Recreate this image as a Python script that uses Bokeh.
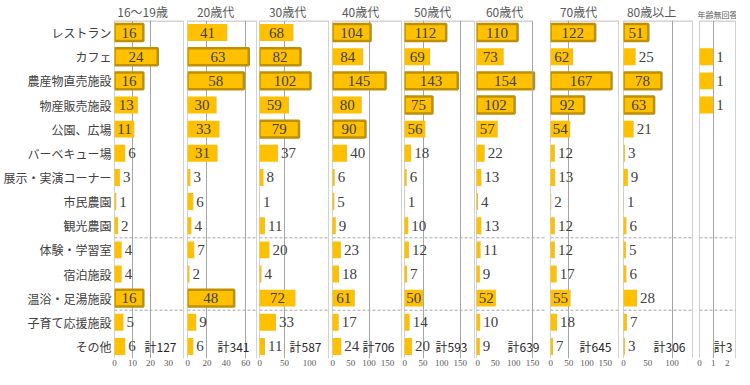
from bokeh.plotting import figure
from bokeh.layouts import row
from bokeh.models import FactorRange, Range1d, FixedTicker, Span, Label, ColumnDataSource
from bokeh.core.properties import value
from bokeh.embed import file_html
from bokeh.resources import INLINE

# ---------------- data ----------------
categories = ["レストラン", "カフェ", "農産物直売施設", "物産販売施設", "公園、広場",
              "バーベキュー場", "展示・実演コーナー", "市民農園", "観光農園",
              "体験・学習室", "宿泊施設", "温浴・足湯施設", "子育て応援施設", "その他"]
groups = ["16～19歳", "20歳代", "30歳代", "40歳代", "50歳代", "60歳代", "70歳代", "80歳以上", "年齢無回答"]

v_16_19 = [16, 24, 16, 13, 11, 6, 3, 1, 2, 4, 4, 16, 5, 6]
v_20s = [41, 63, 58, 30, 33, 31, 3, 6, 4, 7, 2, 48, 9, 6]
v_30s = [68, 82, 102, 59, 79, 37, 8, 1, 11, 20, 4, 72, 33, 11]
v_40s = [104, 84, 145, 80, 90, 40, 6, 5, 9, 23, 18, 61, 17, 24]
v_50s = [112, 69, 143, 75, 56, 18, 6, 1, 10, 12, 7, 50, 14, 20]
v_60s = [110, 73, 154, 102, 57, 22, 13, 4, 13, 11, 9, 52, 10, 9]
v_70s = [122, 62, 167, 92, 54, 12, 13, 2, 12, 12, 17, 55, 18, 7]
v_80plus = [51, 25, 78, 63, 21, 3, 9, 1, 6, 5, 6, 28, 7, 3]
v_noanswer = [0, 1, 1, 1, 0, 0, 0, 0, 0, 0, 0, 0, 0, 0]
series = [v_16_19, v_20s, v_30s, v_40s, v_50s, v_60s, v_70s, v_80plus, v_noanswer]

tick_values = [[0, 10, 20, 30], [0, 20, 40, 60], [0, 50, 100], [0, 50, 100, 150],
               [0, 50, 100, 150], [0, 50, 100, 150], [0, 50, 100, 150], [0, 50, 100], [0, 1, 2]]

# ---------------- layout / style ----------------
x_max = [38.3, 71, 138, 188.5, 188, 187.5, 186, 142, 2.6]
edge_at = [38.3, 71, 138, 188.5, 188, 150, 186, 142, 2.6]
grid_at = [[10, 20], [20, 60], [50], [100], [50, 150], [], [50], [100], [1]]
frame_w = [69, 69, 69, 69, 70, 70, 68, 69, 36]
border_l = [112, 2, 2, 2, 2, 1, 2, 3, 5]
border_r = [2, 1, 2, 1, 1, 2, 2, 2, 1]
total_dx = [-7, -7, -7, -7, -7, 7, -7, -7, -3]
title_center = [28, 28, 28, 28, 28, 28, 28, 28, 18]
FH = 338
TOP = 18
BOTTOM = 13
GOLD = "#FFC000"
GOLD_EDGE = "#BF9000"
GRID = "#A6A6A6"
JP = "Noto Sans CJK JP"
NUM = "Liberation Sans Narrow"

cats_rev = list(reversed(categories))
n = len(categories)


def est_width(s, fs):
    return sum(0.55 * fs if ord(ch) < 128 else fs for ch in s)


figs = []
for i, (g, vals) in enumerate(zip(groups, series)):
    xm = x_max[i]
    fw = frame_w[i]
    p = figure(y_range=FactorRange(factors=cats_rev), x_range=Range1d(0, xm),
               frame_width=fw, frame_height=FH, output_backend="svg",
               toolbar_location=None, min_border_left=border_l[i],
               min_border_right=border_r[i], min_border_top=TOP, min_border_bottom=BOTTOM,
               title=g)
    p.outline_line_color = None
    p.background_fill_color = "white"
    p.border_fill_color = "white"

    tfs = 8 if i == 8 else 12
    p.title.text_font = JP
    p.title.text_font_size = f"{tfs}px"
    p.title.text_font_style = "normal"
    p.title.text_color = "#595959"
    p.title.align = "left"
    p.title.standoff = 1
    p.title.offset = max(-4, title_center[i] - est_width(g, tfs) / 2)

    # axes
    p.xaxis.ticker = FixedTicker(ticks=tick_values[i])
    p.xaxis.axis_line_color = None
    p.xaxis.major_tick_line_color = None
    p.xaxis.minor_tick_line_color = None
    p.xaxis.major_tick_out = 0
    p.xaxis.major_tick_in = 0
    p.xaxis.major_label_standoff = 1
    p.xaxis.major_label_text_font = NUM
    p.xaxis.major_label_text_font_size = "9px"
    p.xaxis.major_label_text_color = "#595959"
    if i == 0:
        p.yaxis.major_label_text_font = JP
        p.yaxis.major_label_text_font_size = "12px"
        p.yaxis.major_label_text_color = "#404040"
        p.yaxis.major_tick_line_color = None
        p.yaxis.minor_tick_line_color = None
        p.yaxis.major_tick_out = 0
        p.yaxis.axis_line_color = None
        p.yaxis.major_label_standoff = 3
    else:
        p.yaxis.visible = False

    p.xgrid.ticker = FixedTicker(ticks=grid_at[i])
    p.xgrid.grid_line_color = GRID
    p.ygrid.grid_line_color = None

    # frame lines: left axis line, right border, top rule
    p.add_layout(Span(location=0, dimension="height", line_color=GRID, line_width=1))
    p.add_layout(Span(location=edge_at[i], dimension="height", line_color=GRID, line_width=1))
    p.segment(x0=[0], y0=[n - 0.02], x1=[edge_at[i]], y1=[n - 0.02],
              line_color=GRID, line_width=1)
    for loc in (2, 5):
        p.add_layout(Span(location=loc, dimension="width", line_color=GRID,
                          line_width=1, line_dash="3 2"))

    # bars (top three per age group are outlined)
    if i < 8:
        thr = sorted(vals, reverse=True)[2]
    else:
        thr = float("inf")
    plain = {"y": [], "right": []}
    high = {"y": [], "right": []}
    for c, v in zip(categories, vals):
        if v <= 0:
            continue
        d = high if v >= thr else plain
        d["y"].append(c)
        d["right"].append(v)
    p.hbar(y="y", right="right", left=0, height=0.7, source=ColumnDataSource(plain),
           fill_color=GOLD, line_color=None)
    p.hbar(y="y", right="right", left=0, height=0.7, source=ColumnDataSource(high),
           fill_color=GOLD, line_color=GOLD_EDGE, line_width=2.5)

    # data labels
    scale = fw / xm
    ins = {"x": [], "y": [], "t": []}
    outs = {"x": [], "y": [], "t": []}
    for c, v in zip(categories, vals):
        if v <= 0:
            continue
        if v * scale >= 18.6:
            ins["x"].append(v / 2); ins["y"].append(c); ins["t"].append(str(v))
        else:
            outs["x"].append(v); outs["y"].append(c); outs["t"].append(str(v))
    common = dict(text_font=value(NUM), text_font_size="15px", text_color="#404040",
                  text_baseline="middle")
    p.text(x="x", y="y", text="t", source=ColumnDataSource(ins), text_align="center", **common)
    p.text(x="x", y="y", text="t", source=ColumnDataSource(outs), text_align="left",
           x_offset=3, **common)

    # total
    p.add_layout(Label(x=edge_at[i], y=0.5, text=f"計{sum(vals)}", text_align="right",
                       text_baseline="middle", x_offset=total_dx[i],
                       text_font=JP, text_font_size="12px", text_color="#262626"))
    figs.append(p)

layout = row(*figs)
open("out.html", "w").write(file_html(layout, INLINE))
